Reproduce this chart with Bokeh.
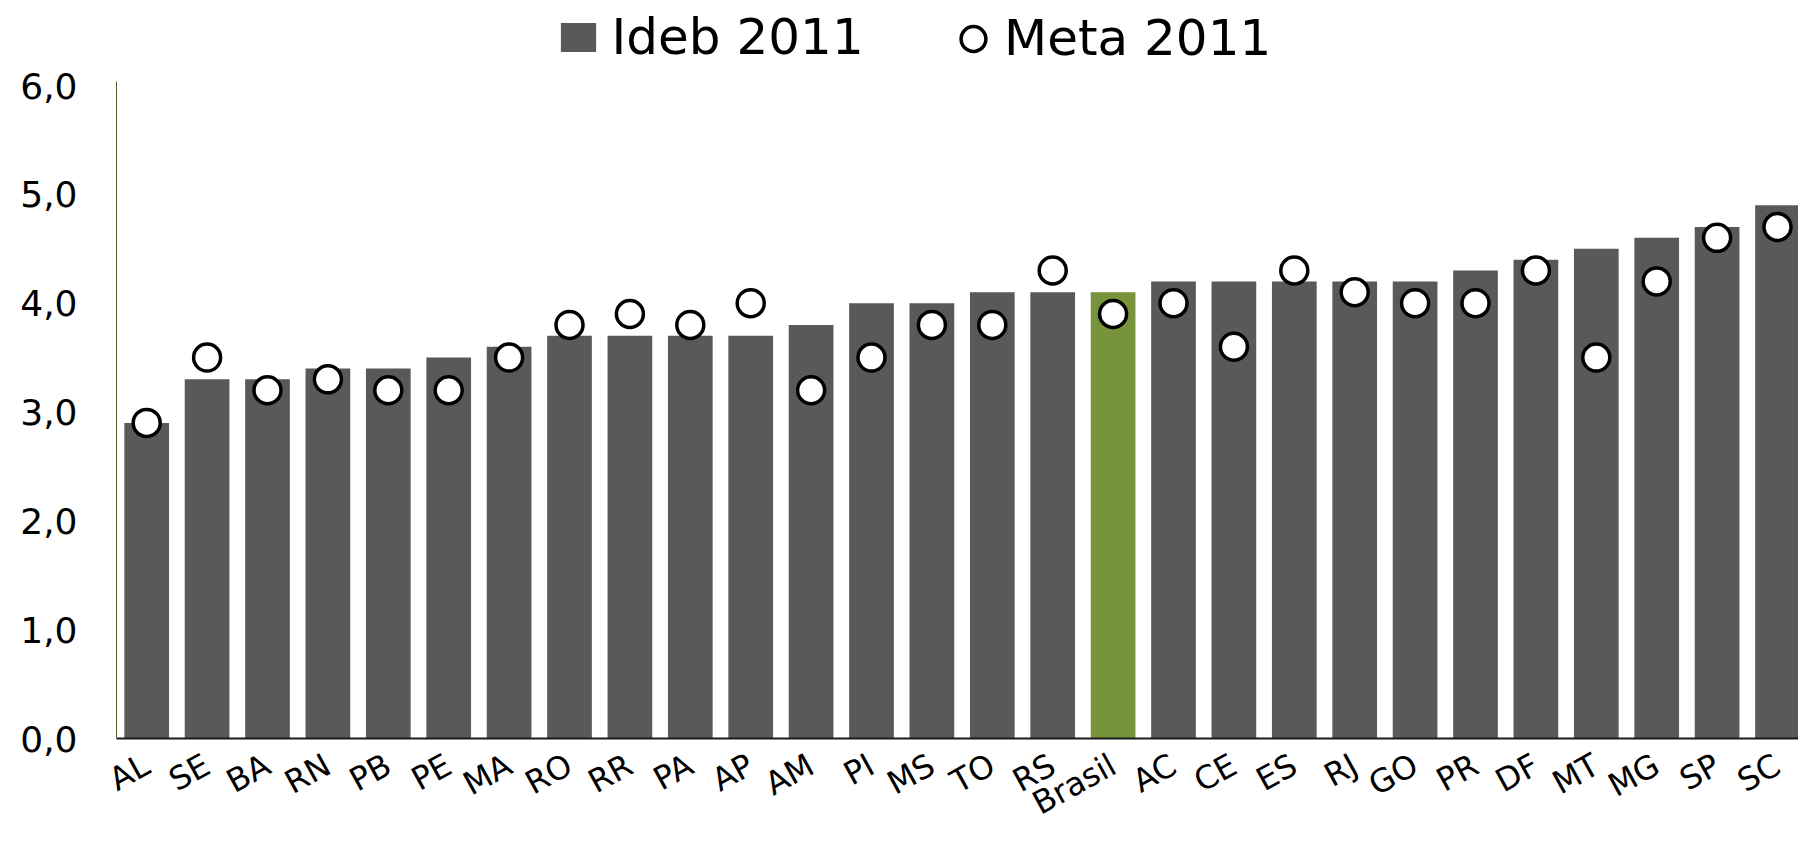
import math
from bokeh.plotting import figure
from bokeh.models import (ColumnDataSource, Range1d, FixedTicker, Legend, LegendItem)
from bokeh.embed import file_html
from bokeh.resources import INLINE

# ---- data ----
categories = ["AL", "SE", "BA", "RN", "PB", "PE", "MA", "RO", "RR", "PA", "AP", "AM", "PI", "MS",
              "TO", "RS", "Brasil", "AC", "CE", "ES", "RJ", "GO", "PR", "DF", "MT", "MG", "SP", "SC"]
ideb_2011 = [2.9, 3.3, 3.3, 3.4, 3.4, 3.5, 3.6, 3.7, 3.7, 3.7, 3.7, 3.8, 4.0, 4.0,
             4.1, 4.1, 4.1, 4.2, 4.2, 4.2, 4.2, 4.2, 4.3, 4.4, 4.5, 4.6, 4.7, 4.9]
meta_2011 = [2.9, 3.5, 3.2, 3.3, 3.2, 3.2, 3.5, 3.8, 3.9, 3.8, 4.0, 3.2, 3.5, 3.8,
             3.8, 4.3, 3.9, 4.0, 3.6, 4.3, 4.1, 4.0, 4.0, 4.3, 3.5, 4.2, 4.6, 4.7]
y_ticks = [0, 1, 2, 3, 4, 5, 6]
y_tick_labels = ["0,0", "1,0", "2,0", "3,0", "4,0", "5,0", "6,0"]
highlight = "Brasil"

GRAY = "#595959"
GREEN = "#77933C"
FONT = "DejaVu Sans"

xs = list(range(len(categories)))
colors = [GREEN if c == highlight else GRAY for c in categories]
source = ColumnDataSource(dict(x=xs, cat=categories, ideb=ideb_2011, meta=meta_2011, color=colors))

W, H = 1798, 842
left_border, bottom_border, top_border = 116, 104, 0
frame_w = W - left_border
frame_h = H - bottom_border - top_border
pitch = 60.4
unit = (frame_h - 85) / 6.0

p = figure(width=W, height=H, output_backend="svg", toolbar_location=None,
           x_range=Range1d(-0.5, -0.5 + frame_w / pitch),
           y_range=Range1d(0, frame_h / unit),
           min_border_left=left_border, min_border_right=0,
           min_border_top=top_border, min_border_bottom=bottom_border)
p.outline_line_color = None
p.xgrid.visible = False
p.ygrid.visible = False
p.background_fill_color = "white"
p.border_fill_color = "white"

bars = p.vbar(x="x", top="ideb", width=0.74, color="color", line_color=None, source=source)
pts = p.scatter(x="x", y="meta", size=27, marker="circle", fill_color="white",
                line_color="black", line_width=3.5, source=source)

# x axis
xa = p.xaxis[0]
xa.ticker = FixedTicker(ticks=xs)
xa.major_label_overrides = {i: c for i, c in zip(xs, categories)}
xa.major_label_orientation = math.radians(29)
xa.major_label_text_font = FONT
xa.major_label_text_font_size = "32px"
xa.major_label_text_line_height = 0.4
xa.major_label_text_color = "black"
xa.major_label_standoff = 24
xa.major_tick_out = 0
xa.major_tick_in = 0
xa.major_tick_line_color = None
xa.minor_tick_line_color = None
xa.axis_line_color = "#1a1a1a"
xa.axis_line_width = 2

# y axis
ya = p.yaxis[0]
ya.ticker = FixedTicker(ticks=y_ticks)
ya.major_label_overrides = {t: l for t, l in zip(y_ticks, y_tick_labels)}
ya.major_label_text_font = FONT
ya.major_label_text_font_size = "36px"
ya.major_label_text_color = "black"
ya.major_label_standoff = 39
ya.major_tick_out = 0
ya.major_tick_in = 0
ya.major_tick_line_color = None
ya.minor_tick_line_color = None
ya.axis_line_color = "#4F6228"
ya.axis_line_width = 1
ya.bounds = (0, 6.04)

frame_left = left_border

# legend: Ideb
leg1 = Legend(items=[LegendItem(label="Ideb 2011", renderers=[bars], index=0)],
              location=(555.6 - frame_left, frame_h - 65.5),
              orientation="horizontal", glyph_width=44, glyph_height=36,
              label_standoff=12, label_text_font=FONT, label_text_font_size="50px",
              label_text_color="black", padding=0, margin=0, spacing=0,
              border_line_color=None, background_fill_alpha=0)
# legend: Meta
leg2 = Legend(items=[LegendItem(label="Meta 2011", renderers=[pts], index=0)],
              location=(942 - frame_left, frame_h - 80.5),
              orientation="horizontal", glyph_width=62, glyph_height=85,
              label_standoff=0, label_text_font=FONT, label_text_font_size="50px",
              label_text_color="black", padding=0, margin=0, spacing=0,
              border_line_color=None, background_fill_alpha=0)
p.add_layout(leg1)
p.add_layout(leg2)

open("out.html", "w").write(file_html(p, INLINE))
